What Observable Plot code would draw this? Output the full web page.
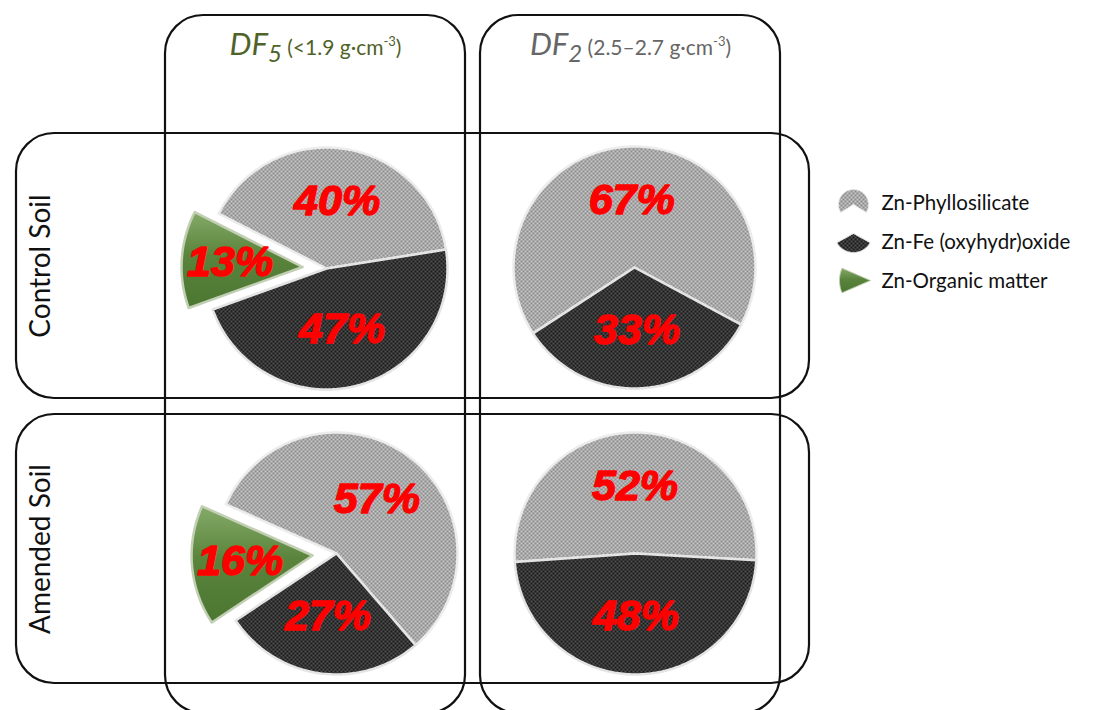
<!DOCTYPE html>
<html><head><meta charset="utf-8">
<script src="https://cdn.jsdelivr.net/npm/d3@7"></script>
<script src="https://cdn.jsdelivr.net/npm/@observablehq/plot@0.6"></script>
<style>
html,body{margin:0;padding:0;background:#fff;}
#chart{width:1109px;height:710px;overflow:hidden;}
</style></head><body><div id="chart"></div>
<script>
// ---------------- data ----------------
const columns = ["DF5", "DF2"];
const columnSymbol = ["DF", "DF"];
const columnIndex = ["5", "2"];
const columnDensity = ["<1.9", "2.5–2.7"];
const densityUnit = "g·cm";
const densityExponent = "-3";
const rows = ["Control Soil", "Amended Soil"];
const components = ["Zn-Phyllosilicate", "Zn-Fe (oxyhydr)oxide", "Zn-Organic matter"];
// one entry per pie
const cellRow = ["Control Soil", "Control Soil", "Amended Soil", "Amended Soil"];
const cellColumn = ["DF5", "DF2", "DF5", "DF2"];
const phyllosilicate = [40, 67, 57, 52];
const oxyhydroxide = [47, 33, 27, 48];
const organicMatter = [13, 0, 16, 0];

// ---------------- layout & style ----------------
const W = 1109, H = 710;
const colBox = {DF5: [165, 465], DF2: [480, 780]};
const colTopBottom = [15, 713];
const rowBox = {"Control Soil": [133, 398], "Amended Soil": [414, 683]};
const rowLeftRight = [16, 809];
const boxRadius = 38;
const pieCenter = [[326, 268], [634, 267], [336, 553], [635, 553]];
const pieStart = [297, 237, 294, 266];          // first-slice angle, degrees clockwise from 12 o'clock
const R = 121;
const explode = [0, 0, 24];
const labelRadius = [0.56, 0.52, 0.6];
const headerColor = ["#4f6228", "#666666"];
const headerY = 45;
const rowLabelX = 41;
const legendIconCenter = [[853, 204], [853, 233], [870, 280]];
const legendIconR = [15, 19, 31];
const legendIconSpan = [0.68, 0.34, 0.13];
const legendIconMid = [0, 180, 270];
const legendTextX = 881;
const legendTextY = [203, 242, 281];
const componentFill = ["url(#tex-phyllo)", "url(#tex-oxide)", "url(#grad-organic)"];
const componentStroke = ["#ececec", "#e4e4e4", "#c2cfb4"];

// ---------------- geometry from values ----------------
const rad = Math.PI / 180;
function slicePoints(id, k, ox, oy, r, a0, a1) {
  const pts = [{id, k, x: ox, y: oy}];
  const n = Math.max(12, Math.ceil((a1 - a0) / rad));
  for (let t = 0; t <= n; t++) {
    const a = a0 + (a1 - a0) * t / n;
    pts.push({id, k, x: ox + r * Math.sin(a), y: oy - r * Math.cos(a)});
  }
  pts.push({id, k, x: ox, y: oy});
  return pts;
}

const slices = [];
const labels = [];
cellRow.forEach((row, i) => {
  const values = [phyllosilicate[i], oxyhydroxide[i], organicMatter[i]];
  const [cx, cy] = pieCenter[i];
  const s = pieStart[i] * rad;
  const arcs = d3.pie().sort(null).value(d => d).startAngle(s).endAngle(s + 2 * Math.PI)(values);
  arcs.forEach((a, k) => {
    if (!a.data) return;
    const mid = (a.startAngle + a.endAngle) / 2;
    const ox = cx + explode[k] * Math.sin(mid), oy = cy - explode[k] * Math.cos(mid);
    slices.push(...slicePoints(i + "-" + k, k, ox, oy, R, a.startAngle, a.endAngle));
    labels.push({x: ox + labelRadius[k] * R * Math.sin(mid), y: oy - labelRadius[k] * R * Math.cos(mid), text: a.data + "%"});
  });
});

const legendSlices = [];
components.forEach((c, k) => {
  const half = legendIconSpan[k] * Math.PI;
  const m = legendIconMid[k] * rad;
  const [x, y] = legendIconCenter[k];
  legendSlices.push(...slicePoints("L" + k, k, x, y, legendIconR[k], m - half, m + half));
});

const colBoxes = columns.map(c => ({x1: colBox[c][0], x2: colBox[c][1], y1: colTopBottom[0], y2: colTopBottom[1]}));
const rowBoxes = rows.map(r => ({x1: rowLeftRight[0], x2: rowLeftRight[1], y1: rowBox[r][0], y2: rowBox[r][1]}));
const headers = columns.map((c, i) => ({x: (colBox[c][0] + colBox[c][1]) / 2, y: headerY, i}));
const rowLabels = rows.map(r => ({x: rowLabelX, y: (rowBox[r][0] + rowBox[r][1]) / 2, text: r}));
const legendItems = components.map((c, k) => ({x: legendTextX, y: legendTextY[k], text: c}));

const sliceMarks = [];
[0, 1, 2].forEach(k => {
  sliceMarks.push(Plot.line(slices.filter(d => d.k === k), {x: "x", y: "y", z: "id", fill: componentFill[k], stroke: componentStroke[k], strokeWidth: 2.5, curve: "linear", strokeLinejoin: "round"}));
  sliceMarks.push(Plot.line(legendSlices.filter(d => d.k === k), {x: "x", y: "y", z: "id", fill: componentFill[k], stroke: componentStroke[k], strokeWidth: 1, curve: "linear"}));
});

const plot = Plot.plot({
  width: W, height: H, margin: 0,
  x: {domain: [0, W], range: [0, W], axis: null},
  y: {domain: [0, H], range: [0, H], axis: null},
  style: {background: "white", fontFamily: "Lato, 'Open Sans', sans-serif", overflow: "hidden"},
  marks: [
    Plot.rect(colBoxes, {x1: "x1", x2: "x2", y1: "y1", y2: "y2", rx: boxRadius, fill: "none", stroke: "#111", strokeWidth: 2.2}),
    Plot.rect(rowBoxes, {x1: "x1", x2: "x2", y1: "y1", y2: "y2", rx: boxRadius, fill: "none", stroke: "#111", strokeWidth: 2.2}),
    ...sliceMarks,
    Plot.text(labels, {x: "x", y: "y", text: "text", fill: "#ff0000", stroke: "#ff0000", strokeWidth: 1.4, fontSize: 43, fontWeight: "bold", fontStyle: "italic", fontFamily: "'Liberation Sans', Arial, sans-serif"}),
    Plot.text(headers, {x: "x", y: "y", text: d => columns[d.i], fontSize: 31, ariaDescription: "header"}),
    Plot.text(rowLabels, {x: "x", y: "y", text: "text", rotate: -90, fontSize: 28, fill: "#111"}),
    Plot.text(legendItems, {x: "x", y: "y", text: "text", textAnchor: "start", fontSize: 20.5, fill: "#111"})
  ]
});

// textures and gradient for the slices
const svg = d3.select(plot);
const defs = svg.insert("defs", ":first-child");
function checker(id, bg, fg) {
  const p = defs.append("pattern").attr("id", id).attr("patternUnits", "userSpaceOnUse").attr("width", 4).attr("height", 4);
  p.append("rect").attr("width", 4).attr("height", 4).attr("fill", bg);
  p.append("rect").attr("width", 2).attr("height", 2).attr("fill", fg);
  p.append("rect").attr("x", 2).attr("y", 2).attr("width", 2).attr("height", 2).attr("fill", fg);
}
checker("tex-phyllo", "#c8c8c8", "#8a8a8a");
checker("tex-oxide", "#505050", "#1a1a1a");
const g = defs.append("linearGradient").attr("id", "grad-organic").attr("x1", 0).attr("y1", 0).attr("x2", 0).attr("y2", 1);
g.append("stop").attr("offset", "0%").attr("stop-color", "#84aa68");
g.append("stop").attr("offset", "45%").attr("stop-color", "#5a843c");
g.append("stop").attr("offset", "100%").attr("stop-color", "#4c7731");

// rich header text: italic symbol, subscript index, density range with superscript exponent
svg.selectAll('g[aria-description="header"] text').each(function(_, j) {
  const t = d3.select(this).text(null).attr("fill", headerColor[j]);
  t.append("tspan").attr("font-style", "italic").text(columnSymbol[j]);
  t.append("tspan").attr("font-style", "italic").attr("font-size", 24).attr("dy", 7).text(columnIndex[j]);
  t.append("tspan").attr("font-size", 21).attr("dy", -7).text(" (" + columnDensity[j] + " " + densityUnit);
  t.append("tspan").attr("font-size", 13).attr("dy", -9).text(densityExponent);
  t.append("tspan").attr("font-size", 21).attr("dy", 9).text(")");
});

document.getElementById("chart").appendChild(plot);
</script>
</body></html>
